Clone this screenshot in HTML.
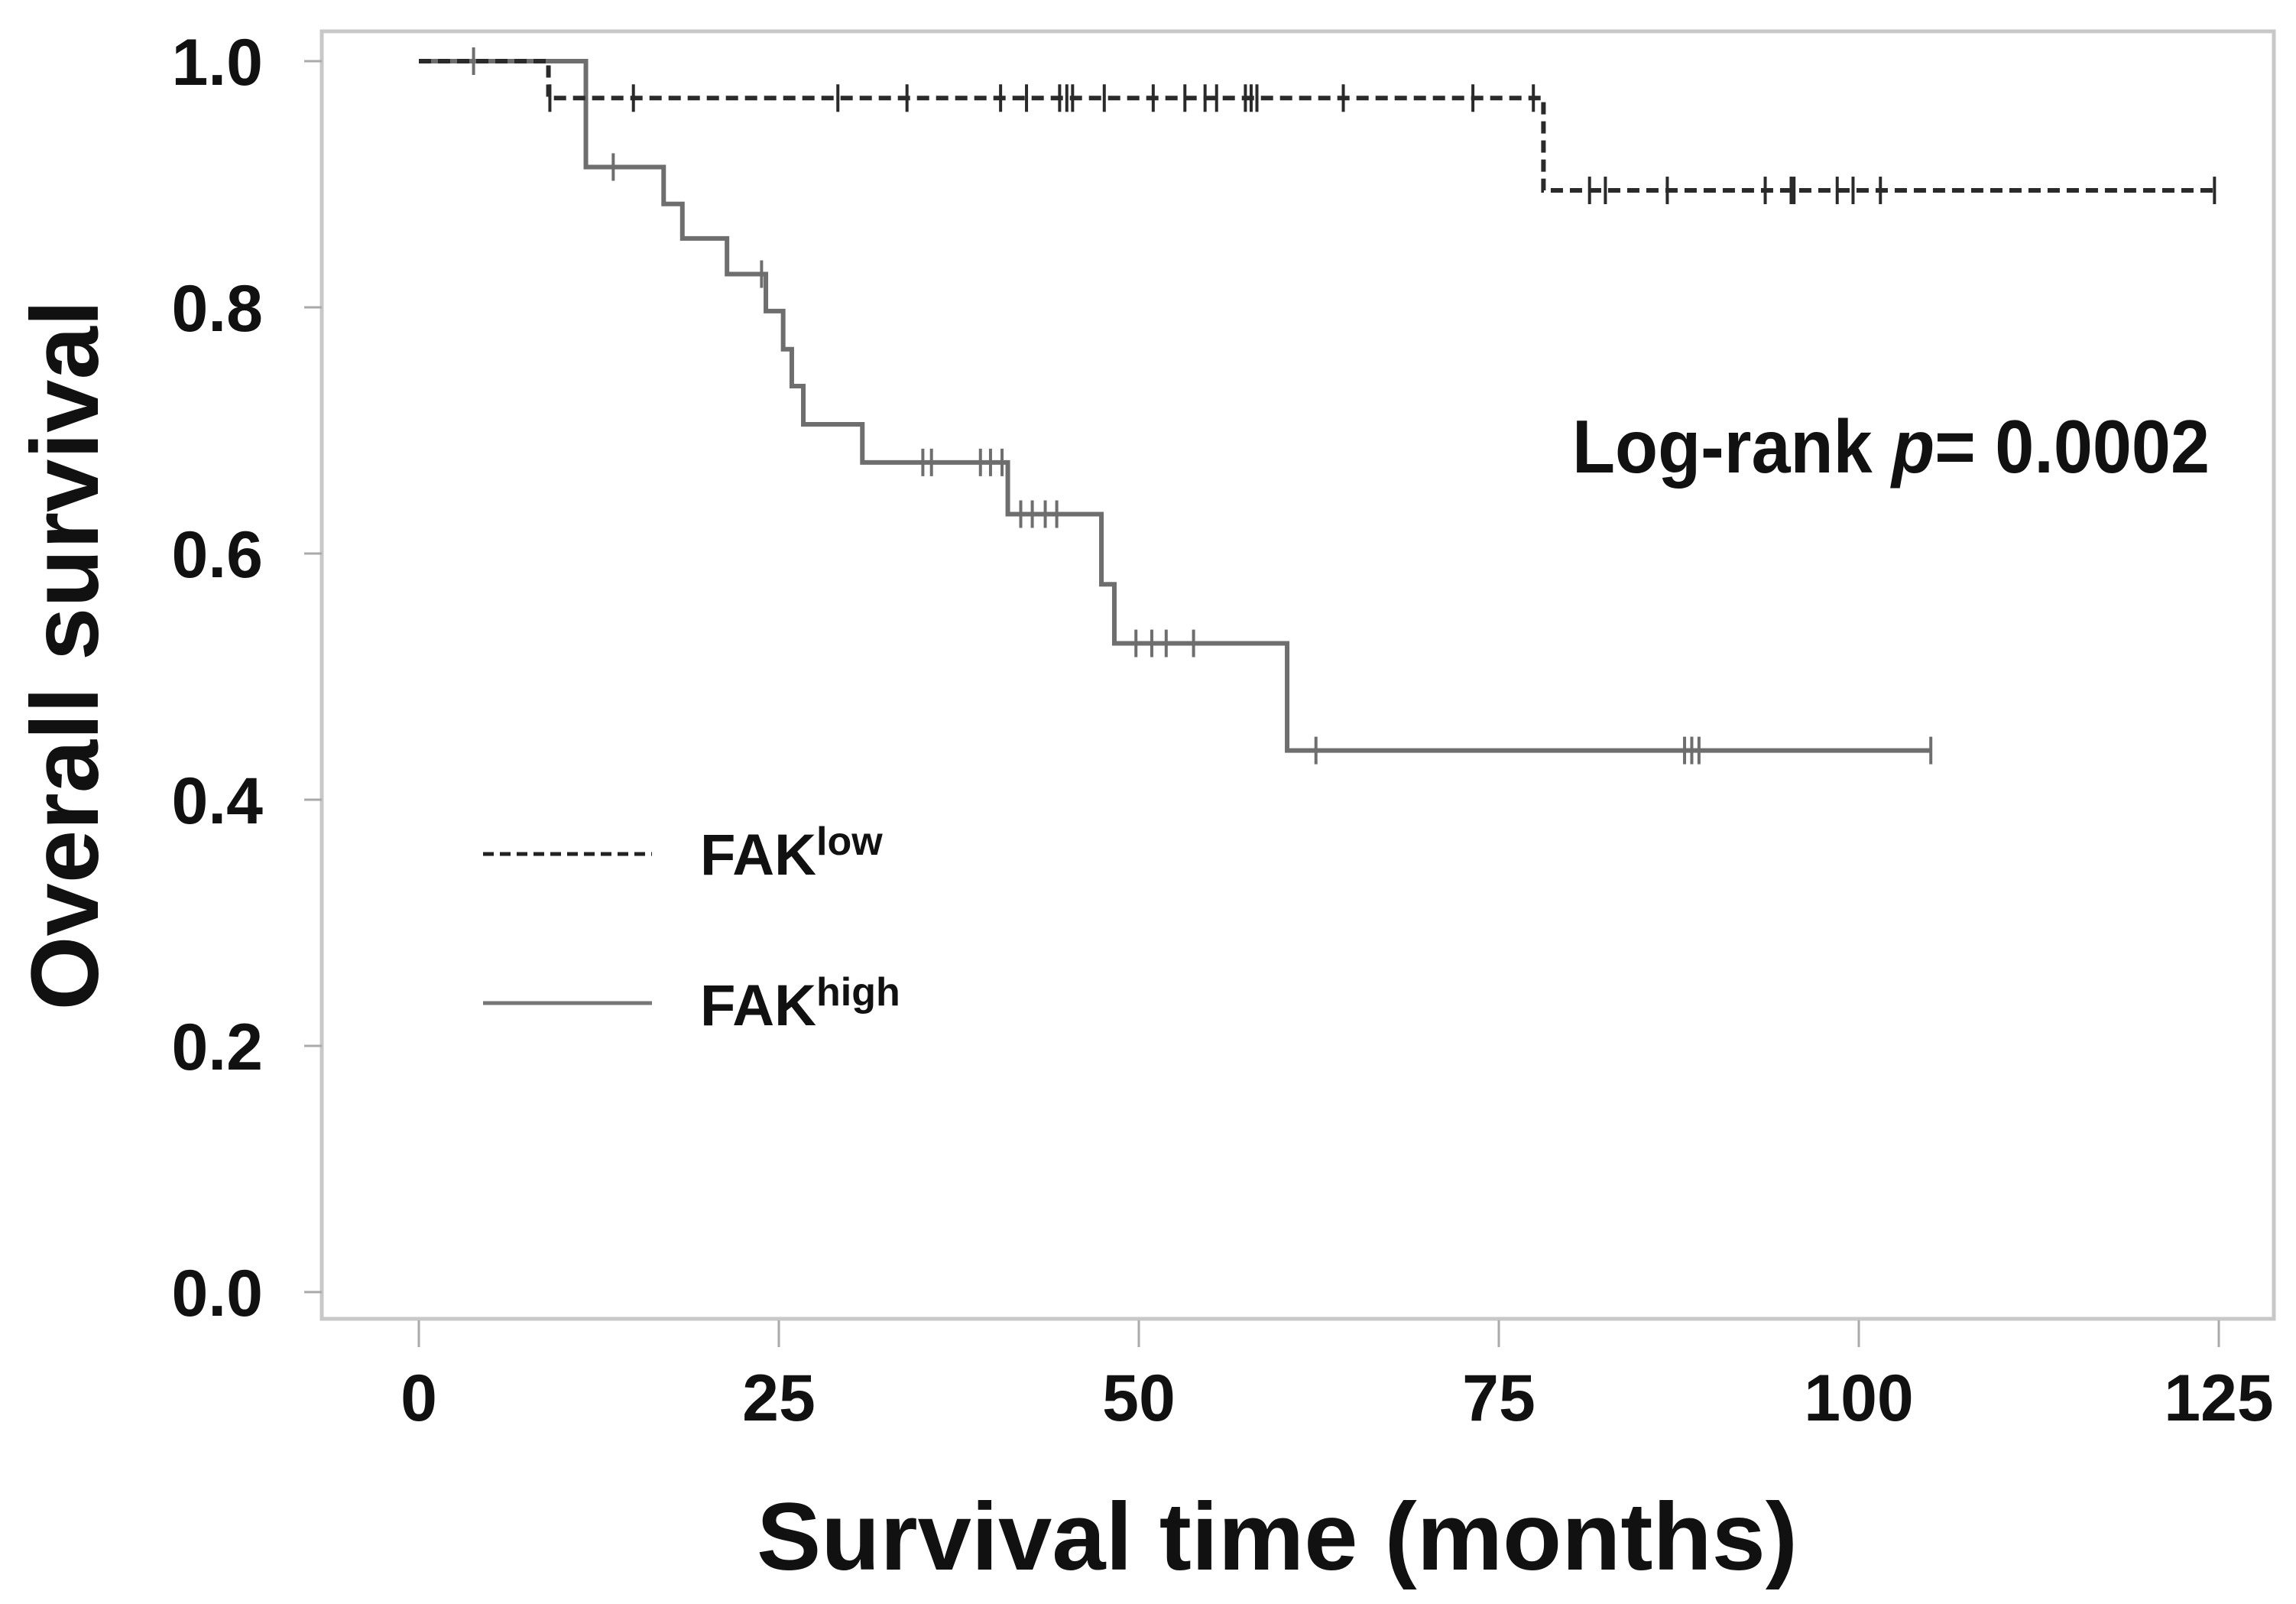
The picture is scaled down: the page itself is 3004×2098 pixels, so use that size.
<!DOCTYPE html>
<html><head><meta charset="utf-8"><style>
html,body{margin:0;padding:0;background:#fff}
svg{display:block}
text{font-family:"Liberation Sans",sans-serif;font-weight:bold;fill:#111}
</style></head><body>
<svg id="chart" width="3004" height="2098" viewBox="0 0 3004 2098" xmlns="http://www.w3.org/2000/svg">
<rect x="421" y="41" width="2554" height="1684" fill="none" stroke="#c8c8c8" stroke-width="5"/>
<g id="axes"></g>
<g id="series"></g>
<text transform="translate(128,857) rotate(-90)" text-anchor="middle" font-size="125" textLength="929" lengthAdjust="spacingAndGlyphs">Overall survival</text>
<text x="990" y="2053" font-size="125" textLength="1362" lengthAdjust="spacingAndGlyphs">Survival time (months)</text>
<text x="2057" y="618" font-size="98" textLength="834" lengthAdjust="spacingAndGlyphs">Log-rank <tspan font-style="italic">p</tspan>= 0.0002</text>
<line x1="632" y1="1117" x2="853" y2="1117" stroke="#222" stroke-width="5" stroke-dasharray="14,8"/>
<text x="916" y="1144" font-size="76">FAK<tspan font-size="52" dy="-26">low</tspan></text>
<line x1="632" y1="1312" x2="853" y2="1312" stroke="#777" stroke-width="5"/>
<text x="916" y="1341" font-size="76">FAK<tspan font-size="52" dy="-26">high</tspan></text>
</svg>
<script>
const xTicks=[0,25,50,75,100,125];
const yTicks=[0.0,0.2,0.4,0.6,0.8,1.0];
const yTickLabels=["0.0","0.2","0.4","0.6","0.8","1.0"];
// FAK high: step times and survival after step
const highTimes=[0,11.6,17.0,18.3,21.4,24.1,25.3,25.9,26.7,30.8,40.9,47.4,48.3,60.3];
const highSurv=[1.0,0.914,0.884,0.856,0.827,0.797,0.766,0.736,0.705,0.674,0.632,0.575,0.527,0.44];
const highEnd=105;
const highCensor=[3.8,13.5,23.8,35.0,35.6,39.0,39.7,40.5,41.8,42.6,43.5,44.3,49.8,50.9,51.9,53.8,62.3,87.9,88.4,88.9,105];
// FAK low
const lowTimes=[0,9.0,78.1];
const lowSurv=[1.0,0.97,0.895];
const lowEnd=124.7;
const lowCensor=[9.1,14.9,29.1,33.9,40.4,42.2,44.5,45.0,45.4,47.6,51.0,53.2,54.6,55.4,57.4,57.8,58.2,64.2,73.2,77.4,81.3,82.4,86.7,93.5,95.3,95.5,98.5,99.6,101.5,124.7];

const NS="http://www.w3.org/2000/svg";
const X=m=>548+m*18.84;
const Y=s=>1690-s*1610;
const axes=document.getElementById('axes');
const ser=document.getElementById('series');
function mk(tag,attrs,parent){const e=document.createElementNS(NS,tag);for(const k in attrs)e.setAttribute(k,attrs[k]);parent.appendChild(e);return e;}

xTicks.forEach(t=>{
  const l=mk('line',{x1:X(t),x2:X(t),y1:1727,y2:1762,stroke:'#aaa','stroke-width':3},axes);
  
  
  const tx=mk('text',{x:X(t),y:1858,'text-anchor':'middle','font-size':86},axes);
  tx.textContent=String(t);
  
  
});
yTicks.forEach((t,i)=>{
  const l=mk('line',{x1:398,x2:421,y1:Y(t),y2:Y(t),stroke:'#aaa','stroke-width':3},axes);
  
  
  const tx=mk('text',{x:344,y:Y(t)+31,'text-anchor':'end','font-size':86},axes);
  tx.textContent=yTickLabels[i];
  
  
});

function survAt(times,surv,t){let s=surv[0];for(let i=0;i<times.length;i++){if(times[i]<=t)s=surv[i];}return s;}
function stepPath(times,surv,end){
  let d='M'+X(times[0])+','+Y(surv[0]);
  for(let i=1;i<times.length;i++){d+=' H'+X(times[i])+' V'+Y(surv[i]);}
  d+=' H'+X(end);return d;
}
function drawSeries(name,times,surv,end,cens,color,dash){
  const p=mk('path',{d:stepPath(times,surv,end),fill:'none',stroke:color,'stroke-width':6},ser);
  if(dash)p.setAttribute('stroke-dasharray',dash);
  
  
  cens.forEach(c=>{
    const s=survAt(times,surv,c);
    const l=mk('line',{x1:X(c),x2:X(c),y1:Y(s)-18,y2:Y(s)+18,stroke:color,'stroke-width':4},ser);
    
    
  });
}
drawSeries('fak-high',highTimes,highSurv,highEnd,highCensor,'#6e6e6e','');
drawSeries('fak-low',lowTimes,lowSurv,lowEnd,lowCensor,'#2a2a2a','16,9');
</script>
</body></html>
